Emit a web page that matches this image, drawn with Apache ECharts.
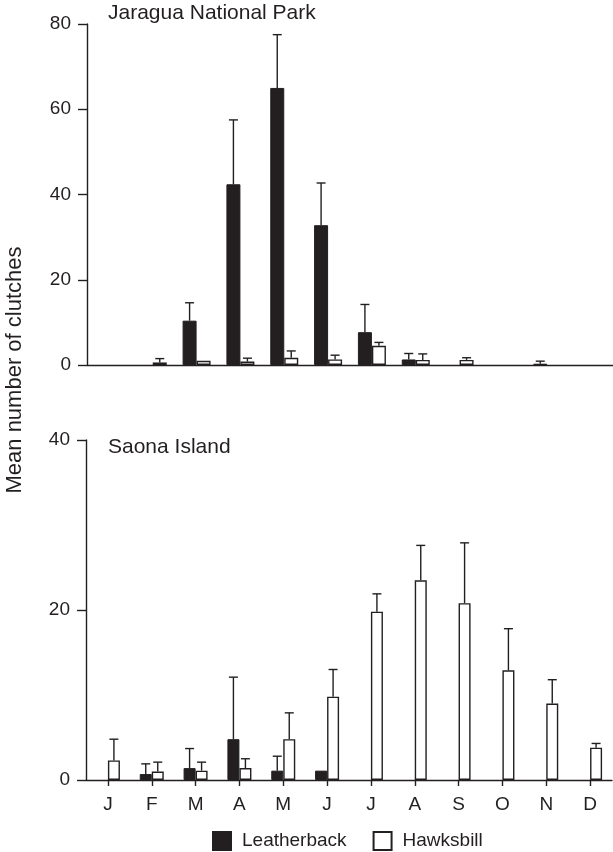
<!DOCTYPE html>
<html>
<head>
<meta charset="utf-8">
<script src="https://cdn.jsdelivr.net/npm/echarts@6/dist/echarts.min.js"></script>
<style>
html,body{margin:0;padding:0;background:#fff;}
#main{width:613px;height:852px;}
</style>
</head>
<body>
<div id="main"></div>
<script>
// ---- data ----
var months = ['J','F','M','A','M','J','J','A','S','O','N','D'];
var jaraguaLeather    = [null, null, 10.4, 42.4, 65.0, 32.8, 7.7, 1.3, null, null, 0.3, null];
var jaraguaLeatherErr = [null, null, 14.6, 57.5, 77.5, 42.7, 14.2, 2.7, null, null, 0.9, null];
var jaraguaHawk       = [null, 0.6, 1.0, 0.8, 1.7, 1.3, 4.5, 1.2, 1.2, null, null, null];
var jaraguaHawkErr    = [null, 1.5, null, 1.6, 3.3, 2.3, 5.3, 2.6, 1.7, null, null, null];
var saonaLeather      = [null, 0.7, 1.4, 4.8, 1.1, 1.1, null, null, null, null, null, null];
var saonaLeatherErr   = [null, 1.9, 3.7, 12.1, 2.8, null, null, null, null, null, null, null];
var saonaHawk         = [2.3, 1.0, 1.1, 1.4, 4.8, 9.8, 19.8, 23.5, 20.8, 12.9, 9.0, 3.8];
var saonaHawkErr      = [4.8, 2.1, 2.1, 2.5, 7.9, 13.0, 21.9, 27.6, 27.9, 17.8, 11.8, 4.3];
var jaraguaTicks = [0, 20, 40, 60, 80];
var saonaTicks = [0, 20, 40];

var INK = '#231f20';
var FONT = '"Liberation Sans", Arial, Helvetica, sans-serif';

function errData(vals, errs) {
  var out = [];
  for (var i = 0; i < vals.length; i++) {
    if (vals[i] != null && errs[i] != null) out.push([i, vals[i], errs[i]]);
  }
  return out;
}
function errSeries(name, gridIdx, vals, errs, sign, barW) {
  return {
    type: 'custom', name: name + '-err', xAxisIndex: gridIdx, yAxisIndex: gridIdx,
    z: 10, silent: true, clip: false,
    data: errData(vals, errs),
    renderItem: function (params, api) {
      var i = api.value(0);
      var p0 = api.coord([i, api.value(1)]);
      var p1 = api.coord([i, api.value(2)]);
      var x = p0[0] + sign * barW / 2;
      var st = { stroke: INK, lineWidth: 1.4 };
      return { type: 'group', children: [
        { type: 'line', shape: { x1: x, y1: p0[1], x2: x, y2: p1[1] }, style: st },
        { type: 'line', shape: { x1: x - 4.5, y1: p1[1], x2: x + 4.5, y2: p1[1] }, style: st }
      ]};
    }
  };
}

var axisLine = { show: true, lineStyle: { color: INK, width: 1.4 } };
var chart = echarts.init(document.getElementById('main'), null, { renderer: 'canvas' });
var option = {
  backgroundColor: '#fff',
  animation: false,
  textStyle: { fontFamily: FONT, color: INK },
  title: [
    { text: 'Jaragua National Park', left: 108, top: 3, padding: 0,
      textStyle: { fontSize: 21, fontWeight: 'normal', color: INK, fontFamily: FONT } },
    { text: 'Saona Island', left: 108, top: 437, padding: 0,
      textStyle: { fontSize: 21, fontWeight: 'normal', color: INK, fontFamily: FONT } }
  ],
  legend: {
    left: 212, top: 831, padding: 0,
    itemWidth: 18, itemHeight: 18, itemGap: 26,
    icon: 'rect',
    textStyle: { fontSize: 19, color: INK, fontFamily: FONT, padding: [0, 0, 0, 6] },
    data: ['Leatherback', 'Hawksbill']
  },
  grid: [
    { left: 87, top: 24, width: 528, height: 341 },
    { left: 86, top: 440, width: 526, height: 340 }
  ],
  xAxis: [
    { type: 'category', gridIndex: 0, data: months, axisLine: axisLine,
      axisTick: { show: false }, axisLabel: { show: false }, splitLine: { show: false } },
    { type: 'category', gridIndex: 1, data: months, axisLine: axisLine,
      axisTick: { show: true, alignWithLabel: true, length: 6, lineStyle: { color: INK, width: 1.4 } },
      axisLabel: { show: true, margin: 15, fontSize: 19, color: INK, fontFamily: FONT },
      splitLine: { show: false } }
  ],
  yAxis: [
    { type: 'value', gridIndex: 0, min: jaraguaTicks[0], max: jaraguaTicks[jaraguaTicks.length - 1], interval: 20,
      axisLine: axisLine, axisTick: { show: true, length: 9, lineStyle: { color: INK, width: 1.4 } },
      axisLabel: { margin: 16, fontSize: 19, color: INK, fontFamily: FONT }, splitLine: { show: false } },
    { type: 'value', gridIndex: 1, min: saonaTicks[0], max: saonaTicks[saonaTicks.length - 1], interval: 20,
      axisLine: axisLine, axisTick: { show: true, length: 9, lineStyle: { color: INK, width: 1.4 } },
      axisLabel: { margin: 16, fontSize: 19, color: INK, fontFamily: FONT }, splitLine: { show: false } }
  ],
  graphic: [
    { type: 'text', x: 15, y: 370, rotation: Math.PI / 2, silent: true,
      style: { text: 'Mean number of clutches', fill: INK, font: '22px ' + FONT,
               textAlign: 'center', textVerticalAlign: 'middle' } }
  ],
  series: [
    { name: 'Leatherback', type: 'bar', xAxisIndex: 0, yAxisIndex: 0, data: jaraguaLeather,
      barWidth: 14, barGap: '0%', itemStyle: { color: INK, borderColor: INK, borderWidth: 1 } },
    { name: 'Hawksbill', type: 'bar', xAxisIndex: 0, yAxisIndex: 0, data: jaraguaHawk,
      barWidth: 14, barGap: '0%', itemStyle: { color: '#fff', borderColor: INK, borderWidth: 1.4 } },
    { name: 'Leatherback', type: 'bar', xAxisIndex: 1, yAxisIndex: 1, data: saonaLeather,
      barWidth: 12, barGap: '0%', itemStyle: { color: INK, borderColor: INK, borderWidth: 1 } },
    { name: 'Hawksbill', type: 'bar', xAxisIndex: 1, yAxisIndex: 1, data: saonaHawk,
      barWidth: 12, barGap: '0%', itemStyle: { color: '#fff', borderColor: INK, borderWidth: 1.4 } },
    errSeries('jl', 0, jaraguaLeather, jaraguaLeatherErr, -1, 14),
    errSeries('jh', 0, jaraguaHawk, jaraguaHawkErr, 1, 14),
    errSeries('sl', 1, saonaLeather, saonaLeatherErr, -1, 12),
    errSeries('sh', 1, saonaHawk, saonaHawkErr, 1, 12)
  ]
};
chart.setOption(option);
</script>
</body>
</html>
